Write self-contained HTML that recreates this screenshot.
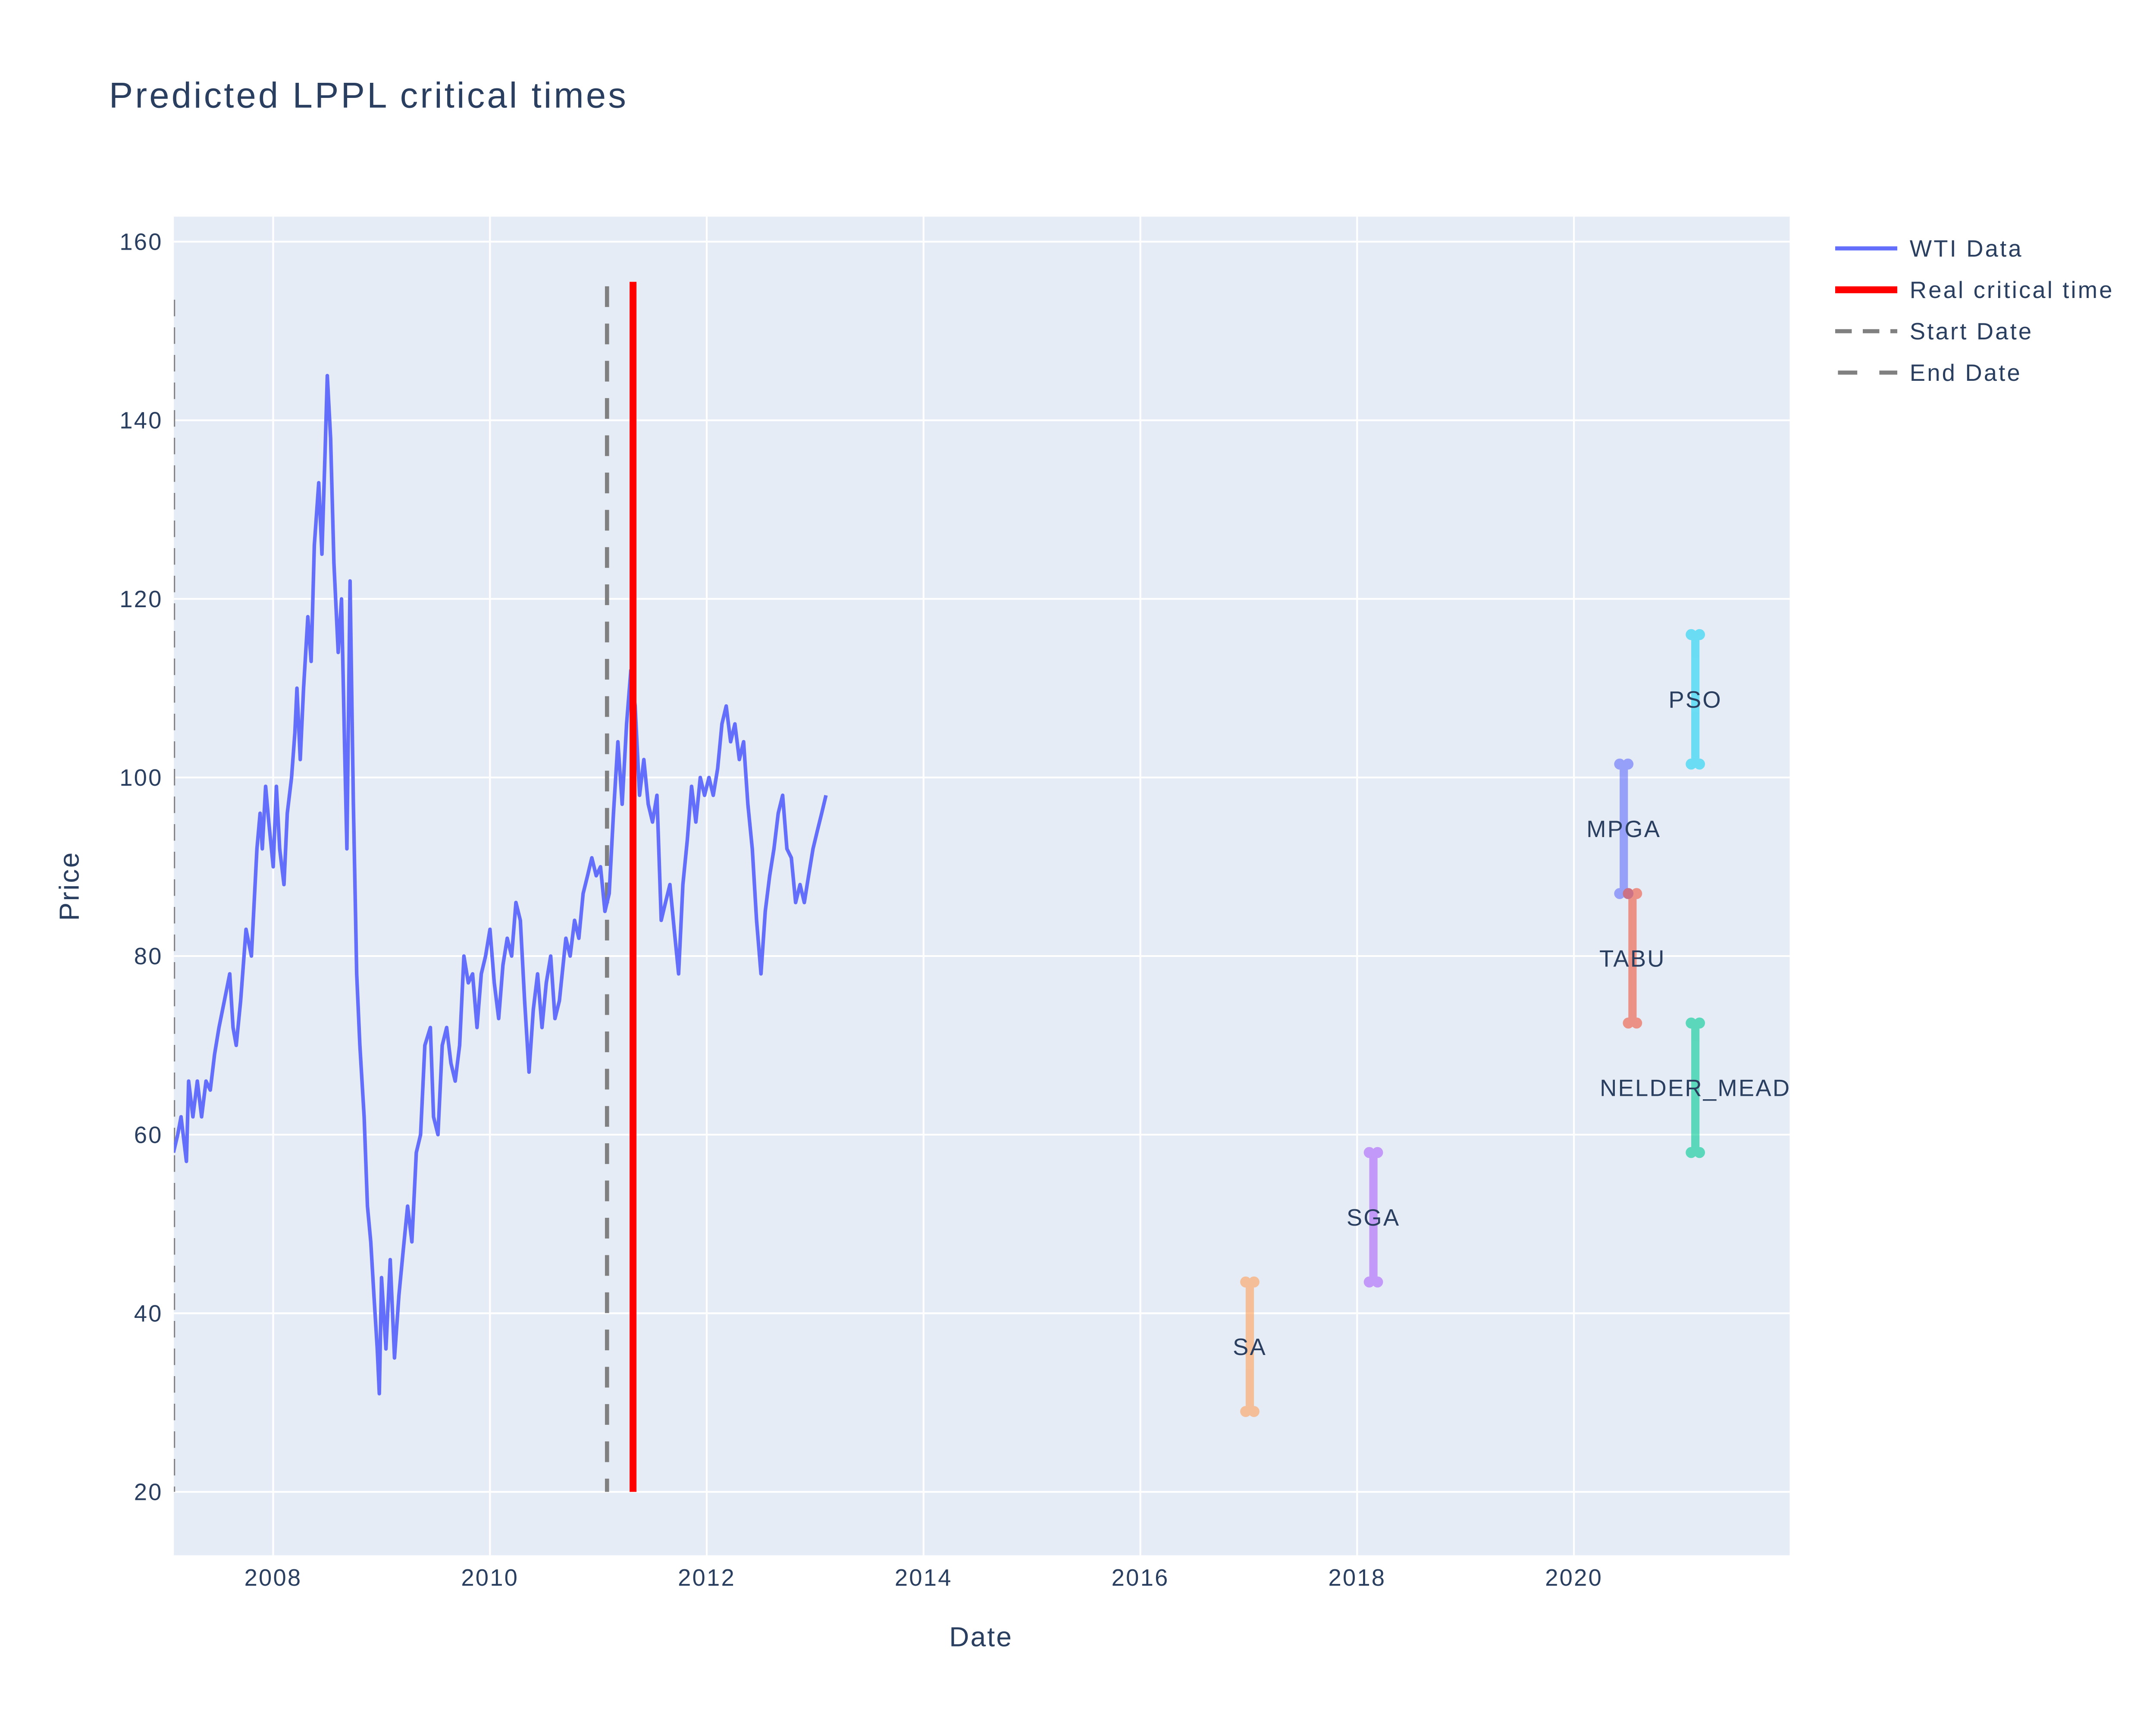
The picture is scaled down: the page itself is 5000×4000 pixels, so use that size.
<!DOCTYPE html>
<html><head><meta charset="utf-8"><style>
html,body{margin:0;padding:0;background:#fff;}
svg{display:block;font-family:"Liberation Sans",Arial,sans-serif;}
</style></head><body>
<svg id="chart" width="5000" height="4000" viewBox="0 0 1562.5 1250" xmlns="http://www.w3.org/2000/svg">
<defs><clipPath id="pc"><rect x="126" y="157" width="1171" height="970"/></clipPath></defs>
<rect x="0" y="0" width="1562.5" height="1250" fill="#fff"/>
<rect x="126" y="157" width="1171" height="970" fill="#E5ECF6"/>
<g id="grid"></g>
<g id="marks" clip-path="url(#pc)"></g>
<g id="axes"></g>
<text x="79" y="78" font-size="26" letter-spacing="1.6" fill="#2a3f5f">Predicted LPPL critical times</text>
<text x="711" y="1193" font-size="20" letter-spacing="1" fill="#2a3f5f" text-anchor="middle">Date</text>
<text x="57" y="642" font-size="20" letter-spacing="1" fill="#2a3f5f" text-anchor="middle" transform="rotate(-90 57 642)">Price</text>
<g font-size="17" letter-spacing="1.3" fill="#2a3f5f">
<g><line x1="1330" y1="180" x2="1375" y2="180" stroke="#636EFA" stroke-width="3"/><text x="1384" y="186">WTI Data</text></g>
<g><line x1="1330" y1="210" x2="1375" y2="210" stroke="#ff0000" stroke-width="5"/><text x="1384" y="216">Real critical time</text></g>
<g><line x1="1330" y1="240" x2="1375" y2="240" stroke="#808080" stroke-width="3" stroke-dasharray="12,8"/><text x="1384" y="246">Start Date</text></g>
<g><line x1="1330" y1="270" x2="1375" y2="270" stroke="#808080" stroke-width="3" stroke-dasharray="14,16" stroke-dashoffset="-2"/><text x="1384" y="276">End Date</text></g>
</g>
</svg>
<script>
const dates=[2007.08,2007.12,2007.15,2007.2,2007.22,2007.26,2007.3,2007.34,2007.38,2007.42,2007.46,2007.5,2007.55,2007.6,2007.63,2007.66,2007.7,2007.75,2007.8,2007.85,2007.88,2007.9,2007.93,2007.96,2008.0,2008.03,2008.06,2008.1,2008.13,2008.17,2008.2,2008.22,2008.25,2008.28,2008.32,2008.35,2008.38,2008.42,2008.45,2008.48,2008.5,2008.53,2008.56,2008.6,2008.63,2008.66,2008.68,2008.71,2008.74,2008.77,2008.8,2008.84,2008.87,2008.9,2008.93,2008.96,2008.98,2009.0,2009.04,2009.08,2009.12,2009.16,2009.2,2009.24,2009.28,2009.32,2009.36,2009.4,2009.45,2009.48,2009.52,2009.56,2009.6,2009.64,2009.68,2009.72,2009.76,2009.8,2009.84,2009.88,2009.92,2009.96,2010.0,2010.04,2010.08,2010.12,2010.16,2010.2,2010.24,2010.28,2010.32,2010.36,2010.4,2010.44,2010.48,2010.52,2010.56,2010.6,2010.64,2010.7,2010.74,2010.78,2010.82,2010.86,2010.9,2010.94,2010.98,2011.02,2011.06,2011.1,2011.14,2011.18,2011.22,2011.26,2011.3,2011.34,2011.38,2011.42,2011.46,2011.5,2011.54,2011.58,2011.62,2011.66,2011.7,2011.74,2011.78,2011.82,2011.86,2011.9,2011.94,2011.98,2012.02,2012.06,2012.1,2012.14,2012.18,2012.22,2012.26,2012.3,2012.34,2012.38,2012.42,2012.46,2012.5,2012.54,2012.58,2012.62,2012.66,2012.7,2012.74,2012.78,2012.82,2012.86,2012.9,2012.94,2012.98,2013.02,2013.06,2013.1];
const prices=[58,60,62,57,66,62,66,62,66,65,69,72,75,78,72,70,75,83,80,92,96,92,99,95,90,99,92,88,96,100,105,110,102,110,118,113,126,133,125,137,145,138,124,114,120,103,92,122,97,78,70,62,52,48,42,36,31,44,36,46,35,42,47,52,48,58,60,70,72,62,60,70,72,68,66,70,80,77,78,72,78,80,83,77,73,79,82,80,86,84,75,67,74,78,72,77,80,73,75,82,80,84,82,87,89,91,89,90,85,87,96,104,97,106,112,108,98,102,97,95,98,84,86,88,83,78,88,93,99,95,100,98,100,98,101,106,108,104,106,102,104,97,92,84,78,85,89,92,96,98,92,91,86,88,86,89,92,94,96,98];
const startDate=[2007.08,153.5,20];
const endDate=[2011.08,155,20];
const criticalTime=[2011.32,155.5,20];
const algoNames=["SA","SGA","MPGA","TABU","PSO","NELDER_MEAD"];
const algoDates=[2017.01,2018.15,2020.46,2020.54,2021.12,2021.12];
const algoLow=[29,43.5,87,72.5,101.5,58];
const algoHigh=[43.5,58,101.5,87,116,72.5];
const algoColors=["#FFA15A","#AB63FA","#636EFA","#EF553B","#19D3F3","#00CC96"];
const xTicks=[2008,2010,2012,2014,2016,2018,2020];
const yTicks=[20,40,60,80,100,120,140,160];

const NS="http://www.w3.org/2000/svg";
const X0=126,X1=1297,Y0=157,Y1=1127;
const xMin=2007.084,xMax=2021.99,yMin=12.9,yMax=162.8;
const xs=v=>X0+(v-xMin)/(xMax-xMin)*(X1-X0);
const ys=v=>Y1-(v-yMin)/(yMax-yMin)*(Y1-Y0);
function mk(tag,attrs,parent){const e=document.createElementNS(NS,tag);for(const k in attrs)e.setAttribute(k,attrs[k]);parent.appendChild(e);return e;}
const grid=document.getElementById('grid'),marks=document.getElementById('marks'),axes=document.getElementById('axes');
xTicks.forEach(t=>{
  const l=mk('line',{x1:xs(t),x2:xs(t),y1:Y0,y2:Y1,stroke:'#fff','stroke-width':1.3},grid);
  
  
  const tx=mk('text',{x:xs(t),y:Y1+22,'text-anchor':'middle','font-size':17,'letter-spacing':1,fill:'#2a3f5f'},axes);
  tx.textContent=t;
  
  
});
yTicks.forEach(t=>{
  const l=mk('line',{x1:X0,x2:X1,y1:ys(t),y2:ys(t),stroke:'#fff','stroke-width':1.3},grid);
  
  
  const tx=mk('text',{x:X0-8,y:ys(t)+6,'text-anchor':'end','font-size':17,'letter-spacing':1,fill:'#2a3f5f'},axes);
  tx.textContent=t;
  
  
});
const sd=mk('line',{x1:xs(startDate[0]),x2:xs(startDate[0]),y1:ys(startDate[1]),y2:ys(startDate[2]),stroke:'#808080','stroke-width':2.5,'stroke-dasharray':'12,8'},marks);


const ed=mk('line',{x1:xs(endDate[0]),x2:xs(endDate[0]),y1:ys(endDate[1]),y2:ys(endDate[2]),stroke:'#808080','stroke-width':3,'stroke-dasharray':'15,12'},marks);


const pts=dates.map((d,i)=>xs(d).toFixed(1)+','+ys(prices[i]).toFixed(1)).join(' ');
const wl=mk('polyline',{points:pts,fill:'none',stroke:'#636EFA','stroke-width':2.6,'stroke-linejoin':'round'},marks);


const ct=mk('line',{x1:xs(criticalTime[0]),x2:xs(criticalTime[0]),y1:ys(criticalTime[1]),y2:ys(criticalTime[2]),stroke:'#ff0000','stroke-width':5},marks);


algoNames.forEach((n,i)=>{
  const g=mk('g',{opacity:0.6},marks);
  
  
  const x=xs(algoDates[i]);
  mk('rect',{x:x-3,y:ys(algoHigh[i]),width:6,height:ys(algoLow[i])-ys(algoHigh[i]),fill:algoColors[i]},g);
  [algoLow[i],algoHigh[i]].forEach(v=>{
    mk('circle',{cx:x-3,cy:ys(v),r:4,fill:algoColors[i]},g);
    mk('circle',{cx:x+3,cy:ys(v),r:4,fill:algoColors[i]},g);
  });
  const tx=mk('text',{x:x,y:ys((algoLow[i]+algoHigh[i])/2)+6,'text-anchor':'middle','font-size':17,'letter-spacing':1,fill:'#2a3f5f'},marks);
  tx.textContent=n;
  
  
});
</script>
</body></html>
